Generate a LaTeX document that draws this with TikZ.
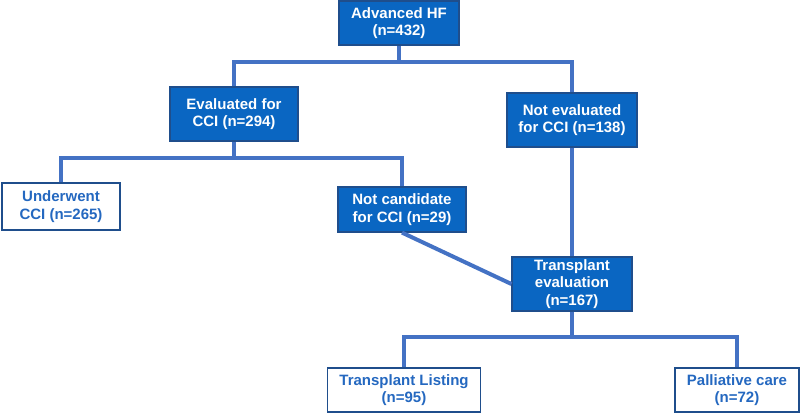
\documentclass[tikz,border=0pt]{standalone}
\usepackage{fontspec}
\setmainfont{Liberation Sans}
\definecolor{boxblue}{HTML}{0A66C2}
\definecolor{edgeblue}{HTML}{1F4E8C}
\definecolor{lineblue}{HTML}{4472C4}
\definecolor{textblue}{HTML}{2468C0}

\begin{document}
\begin{tikzpicture}[x=1pt,y=-1pt,
		filled/.style={draw=edgeblue,line width=1.2pt,fill=boxblue,text=white,font=\fontsize{15}{17.5}\selectfont\bfseries,align=center,inner sep=0pt},
		open/.style={draw=edgeblue,line width=1.2pt,fill=white,text=textblue,font=\fontsize{15}{17.5}\selectfont\bfseries,align=center,inner sep=0pt},
		link/.style={draw=lineblue,line width=4pt}]
				\useasboundingbox (0,0) rectangle (800,414);
				\node[filled,minimum width=120,minimum height=44] (hf) at (399,23) {Advanced HF\\(n=432)};
				\node[filled,minimum width=128,minimum height=54] (ev) at (234,114) {Evaluated for\\CCI (n=294)};
				\node[filled,minimum width=130,minimum height=54] (nev) at (572,120) {Not evaluated\\for CCI (n=138)};
				\node[open,minimum width=118,minimum height=47] (cci) at (61,206.5) {Underwent\\CCI (n=265)};
				\node[filled,minimum width=128,minimum height=45] (nc) at (402,209.5) {Not candidate\\for CCI (n=29)};
				\node[filled,minimum width=120,minimum height=54] (tx) at (572,284) {Transplant\\evaluation\\(n=167)};
				\node[open,minimum width=153,minimum height=44] (lst) at (404,390) {Transplant Listing\\(n=95)};
				\node[open,minimum width=124,minimum height=44] (pal) at (737,390) {Palliative care\\(n=72)};
				\coordinate (b1) at (0,62);
				\coordinate (b2) at (0,158);
				\coordinate (b3) at (0,337);
				\draw[link] (hf) -- (hf |- b1);
				\draw[link] (ev.north) -- (ev.north |- b1) -| (nev.north);
				\draw[link] (ev) -- (ev |- b2);
				\draw[link] (cci.north) -- (cci.north |- b2) -| (nc.north);
				\draw[link] (nev) -- (tx);
				\draw[link] (nc.south) -- (tx.west);
				\draw[link] (tx) -- (tx |- b3);
				\draw[link] (lst.north) -- (lst.north |- b3) -| (pal.north);
			\end{tikzpicture}
\end{document}
